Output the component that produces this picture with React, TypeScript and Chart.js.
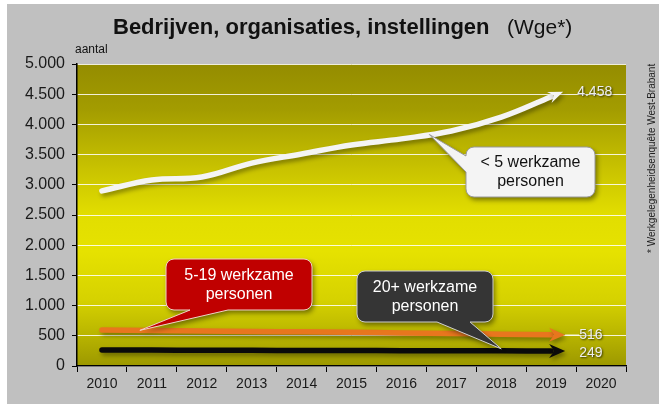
import React, { useEffect, useRef } from 'react';
import { Chart, registerables } from 'chart.js';

Chart.register(...registerables);

const FONT = "'Liberation Sans', Arial, sans-serif";

const years = ['2010', '2011', '2012', '2013', '2014', '2015', '2016', '2017', '2018', '2019', '2020'];
const smallFirms = [2900, 3080, 3130, 3360, 3510, 3660, 3760, 3890, 4120, 4458, null];
const mediumFirms = [596, 588, 580, 572, 565, 557, 548, 538, 527, 516, null];
const largeFirms = [265, 263, 261, 259, 257, 256, 254, 253, 251, 249, null];
const yTickValues = [0, 500, 1000, 1500, 2000, 2500, 3000, 3500, 4000, 4500, 5000];

const seriesNames = ['< 5 werkzame personen', '5-19 werkzame personen', '20+ werkzame personen'];

function fmt(n: number): string {
  return String(Math.round(n)).replace(/\B(?=(\d{3})+(?!\d))/g, '.');
}

function valueAt(arr: (number | null)[], idx: number): number {
  const i = Math.floor(idx);
  const f = idx - i;
  const a = arr[i] as number;
  const b = (arr[i + 1] ?? a) as number;
  return a + (b - a) * f;
}

type Tail = { edge: 'bottom' | 'left'; a: number; b: number; apex: { x: number; y: number } };

function drawCallout(
  ctx: CanvasRenderingContext2D,
  x: number, y: number, w: number, h: number, r: number,
  tail: Tail, fill: string, stroke: string, textColor: string, lines: string[]
) {
  ctx.save();
  ctx.beginPath();
  ctx.moveTo(x + r, y);
  ctx.lineTo(x + w - r, y);
  ctx.arcTo(x + w, y, x + w, y + r, r);
  ctx.lineTo(x + w, y + h - r);
  ctx.arcTo(x + w, y + h, x + w - r, y + h, r);
  if (tail.edge === 'bottom') {
    ctx.lineTo(tail.b, y + h);
    ctx.lineTo(tail.apex.x, tail.apex.y);
    ctx.lineTo(tail.a, y + h);
  }
  ctx.lineTo(x + r, y + h);
  ctx.arcTo(x, y + h, x, y + h - r, r);
  if (tail.edge === 'left') {
    ctx.lineTo(x, tail.b);
    ctx.lineTo(tail.apex.x, tail.apex.y);
    ctx.lineTo(x, tail.a);
  }
  ctx.lineTo(x, y + r);
  ctx.arcTo(x, y, x + r, y, r);
  ctx.closePath();
  ctx.shadowColor = 'rgba(0,0,0,0.45)';
  ctx.shadowBlur = 5;
  ctx.shadowOffsetX = 2;
  ctx.shadowOffsetY = 3;
  ctx.fillStyle = fill;
  ctx.fill();
  ctx.shadowColor = 'transparent';
  ctx.lineWidth = 1;
  ctx.strokeStyle = stroke;
  ctx.stroke();
  ctx.fillStyle = textColor;
  ctx.font = `16px ${FONT}`;
  ctx.textAlign = 'center';
  ctx.textBaseline = 'middle';
  const cx = x + w / 2;
  const cy = y + h / 2;
  ctx.fillText(lines[0], cx, cy - 9);
  ctx.fillText(lines[1], cx, cy + 10);
  ctx.restore();
}

const decorPlugin = {
  id: 'decor',
  beforeDraw(chart: any) {
    const { ctx, chartArea } = chart;
    const W = chart.width;
    const H = chart.height;
    ctx.save();
    ctx.fillStyle = '#ffffff';
    ctx.fillRect(0, 0, W, H);
    ctx.fillStyle = '#c0c0c0';
    ctx.fillRect(7, 4, W - 7, H - 4);
    const g = ctx.createLinearGradient(0, chartArea.top, 0, chartArea.bottom);
    g.addColorStop(0, '#948c00');
    g.addColorStop(0.15, '#a39c00');
    g.addColorStop(0.35, '#c9c300');
    g.addColorStop(0.5, '#e2de00');
    g.addColorStop(0.62, '#e6e200');
    g.addColorStop(0.78, '#d6d200');
    g.addColorStop(0.9, '#b8b400');
    g.addColorStop(1, '#9c9800');
    ctx.fillStyle = g;
    ctx.fillRect(chartArea.left, chartArea.top, chartArea.right - chartArea.left, chartArea.bottom - chartArea.top);

    // title
    ctx.fillStyle = '#111111';
    ctx.textBaseline = 'alphabetic';
    ctx.textAlign = 'left';
    ctx.font = `bold 22px ${FONT}`;
    const t1 = 'Bedrijven, organisaties, instellingen';
    ctx.fillText(t1, 113, 34);
    ctx.font = `21px ${FONT}`;
    ctx.fillText('(Wge*)', 507, 34);

    // axis caption
    ctx.textBaseline = 'middle';
    ctx.font = `12px ${FONT}`;
    ctx.fillStyle = '#111111';
    ctx.fillText('aantal', 75, 50);

    // source note (vertical)
    ctx.save();
    ctx.translate(652, 253);
    ctx.rotate(-Math.PI / 2);
    ctx.font = `10px ${FONT}`;
    ctx.fillStyle = '#222222';
    ctx.textAlign = 'left';
    ctx.fillText('* Werkgelegenheidsenquête West-Brabant', 0, 0);
    ctx.restore();
    ctx.restore();
  },
};

const arrowSizes = [
  { len: 13, half: 6 },
  { len: 14, half: 7 },
  { len: 14, half: 7 },
];

const lineShadowPlugin = {
  id: 'lineShadow',
  beforeDatasetsDraw(chart: any) {
    const ctx = chart.ctx;
    ctx.save();
    ctx.shadowColor = 'rgba(0,0,0,0.35)';
    ctx.shadowBlur = 4;
    ctx.shadowOffsetX = 2;
    ctx.shadowOffsetY = 3;
  },
  afterDatasetsDraw(chart: any) {
    const ctx = chart.ctx;
    chart.data.datasets.forEach((ds: any, i: number) => {
      const meta = chart.getDatasetMeta(i);
      const pts = meta.data;
      let last = -1;
      ds.data.forEach((v: any, k: number) => { if (v !== null && v !== undefined) last = k; });
      if (last < 1) return;
      const p = pts[last];
      const prev = pts[last - 1];
      let dx = p.x - (p.cp1x ?? prev.x);
      let dy = p.y - (p.cp1y ?? prev.y);
      const L = Math.hypot(dx, dy) || 1;
      dx /= L; dy /= L;
      const { len, half } = arrowSizes[i];
      const tipX = p.x + dx * len;
      const tipY = p.y + dy * len;
      const bx = p.x - dx * 2;
      const by = p.y - dy * 2;
      ctx.beginPath();
      ctx.moveTo(tipX, tipY);
      ctx.lineTo(bx - dy * half, by + dx * half);
      ctx.lineTo(p.x + dx * 3, p.y + dy * 3);
      ctx.lineTo(bx + dy * half, by - dx * half);
      ctx.closePath();
      ctx.fillStyle = ds.borderColor;
      ctx.fill();
      (ds as any)._tip = { x: tipX, y: tipY };
    });
    ctx.restore();
  },
};

const labelsPlugin = {
  id: 'endLabels',
  afterDraw(chart: any) {
    const { ctx } = chart;
    const x = chart.scales.x;
    const y = chart.scales.y;
    const series = [smallFirms, mediumFirms, largeFirms];

    // end value labels
    ctx.save();
    ctx.font = `14px ${FONT}`;
    ctx.textBaseline = 'middle';
    ctx.textAlign = 'left';
    const offsets = [0, 0, 2];
    series.forEach((arr, i) => {
      const ds: any = chart.data.datasets[i];
      const tip = ds._tip;
      if (!tip) return;
      const v = arr[9] as number;
      if (i === 1) {
        ctx.strokeStyle = 'rgba(255,255,255,0.9)';
        ctx.lineWidth = 1;
        ctx.beginPath();
        ctx.moveTo(tip.x, tip.y);
        ctx.lineTo(tip.x + 14, tip.y);
        ctx.stroke();
      }
      ctx.shadowColor = 'rgba(0,0,0,0.7)';
      ctx.shadowBlur = 2;
      ctx.shadowOffsetX = 1;
      ctx.shadowOffsetY = 1;
      ctx.fillStyle = '#eeeeee';
      ctx.fillText(fmt(v), tip.x + 14, tip.y + offsets[i]);
      ctx.shadowColor = 'transparent';
    });
    ctx.restore();

    // callouts
    const ax1 = 6.56;
    drawCallout(ctx, 466, 147, 129, 50, 8,
      { edge: 'left', a: 156, b: 172, apex: { x: x.getPixelForValue(ax1), y: y.getPixelForValue(valueAt(smallFirms, ax1)) } },
      '#f4f4f4', '#9a9a9a', '#111111', ['< 5 werkzame', 'personen']);
    const ax2 = 0.76;
    drawCallout(ctx, 166, 259, 146, 51, 8,
      { edge: 'bottom', a: 190, b: 228, apex: { x: x.getPixelForValue(ax2), y: y.getPixelForValue(valueAt(mediumFirms, ax2)) } },
      '#c00000', '#f0d2c8', '#ffffff', ['5-19 werkzame', 'personen']);
    const ax3 = 8.0;
    drawCallout(ctx, 357, 271, 136, 51, 8,
      { edge: 'bottom', a: 437, b: 470, apex: { x: x.getPixelForValue(ax3), y: y.getPixelForValue(valueAt(largeFirms, ax3)) - 2 } },
      '#353535', '#cfcfcf', '#ffffff', ['20+ werkzame', 'personen']);
  },
};

export default function App() {
  const ref = useRef<HTMLCanvasElement | null>(null);
  useEffect(() => {
    if (!ref.current) return;
    const chart = new Chart(ref.current, {
      type: 'line',
      data: {
        labels: years,
        datasets: [
          { label: seriesNames[0], data: smallFirms, borderColor: '#f4f4f4', borderWidth: 5.5, tension: 0.4, pointRadius: 0, borderCapStyle: 'round', fill: false },
          { label: seriesNames[1], data: mediumFirms, borderColor: '#e8761e', borderWidth: 5.5, tension: 0.4, pointRadius: 0, borderCapStyle: 'round', fill: false },
          { label: seriesNames[2], data: largeFirms, borderColor: '#0a0a0a', borderWidth: 5.5, tension: 0.4, pointRadius: 0, borderCapStyle: 'round', fill: false },
        ] as any,
      },
      options: {
        responsive: false,
        animation: false,
        layout: { padding: { left: 0, top: 64, right: 33, bottom: 0 } },
        plugins: { legend: { display: false }, tooltip: { enabled: false }, title: { display: false } },
        scales: {
          x: {
            offset: true,
            grid: { offset: true, drawOnChartArea: false, tickLength: 6, color: '#000', tickColor: '#000', lineWidth: 1 },
            border: { color: '#000', width: 1.5 },
            ticks: { color: '#1a1a1a', font: { family: FONT, size: 14 }, padding: 4, maxRotation: 0, autoSkip: false },
            afterFit: (s: any) => { s.height = 38; },
          },
          y: {
            min: 0,
            max: 5000,
            afterBuildTicks: (s: any) => { s.ticks = yTickValues.map((v) => ({ value: v })); },
            ticks: { color: '#1a1a1a', font: { family: FONT, size: 16 }, padding: 7, callback: (v: any) => fmt(Number(v)) },
            grid: { color: 'rgba(255,255,255,0.85)', tickColor: '#000', tickLength: 5, lineWidth: 1 },
            border: { color: '#000', width: 1.5 },
            afterFit: (s: any) => { s.width = 77; },
          },
        },
      } as any,
      plugins: [decorPlugin, lineShadowPlugin, labelsPlugin],
    });
    return () => chart.destroy();
  }, []);
  return (
    <div style={{ position: 'fixed', left: 0, top: 0, width: 659, height: 404, background: '#fff' }}>
      <canvas ref={ref} width={659} height={404} style={{ display: 'block', width: 659, height: 404 }} />
    </div>
  );
}
